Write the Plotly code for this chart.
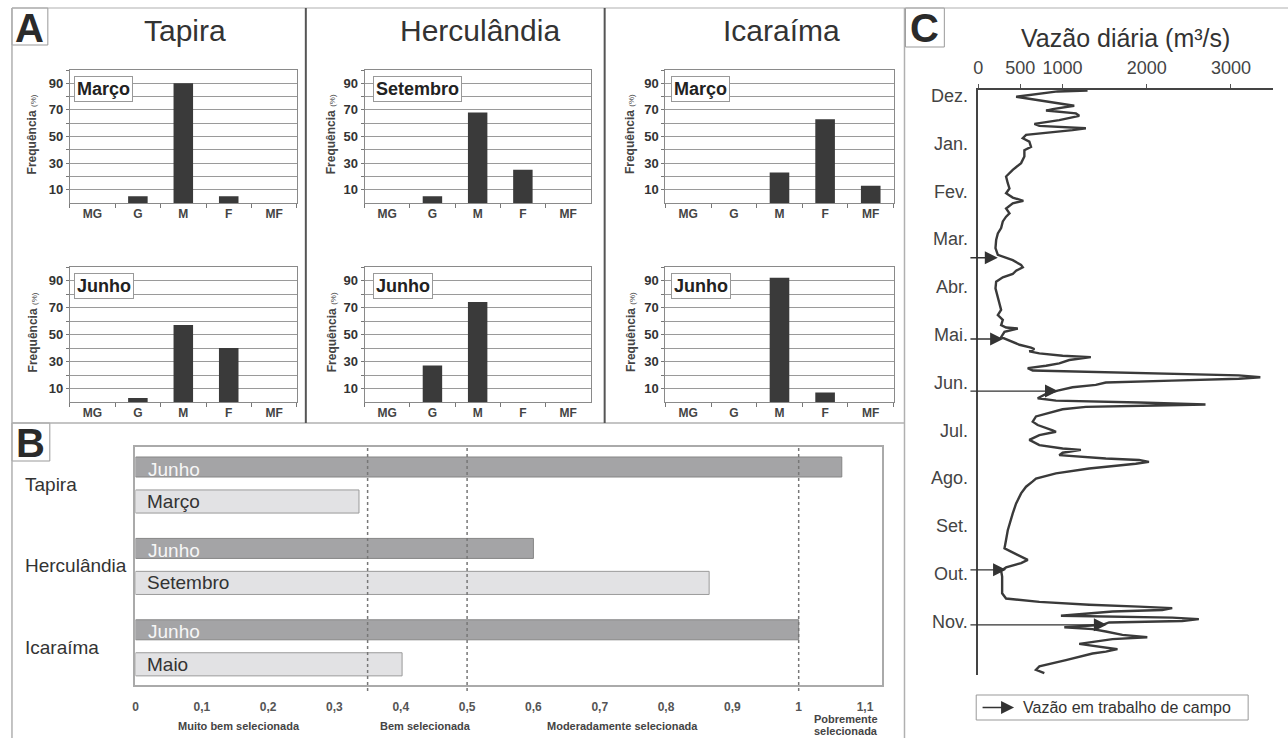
import plotly.graph_objects as go

W, H = 1288, 738
FONT = "Liberation Sans, Arial, sans-serif"


def px(x):
    return x / W


def py(y):
    return 1 - y / H


# ---------------- Panel A data (frequency %, by grain-size class) ----------------
classes = ["MG", "G", "M", "F", "MF"]
sites_a = ["Tapira", "Herculândia", "Icaraíma"]
top_months = ["Março", "Setembro", "Março"]
bottom_months = ["Junho", "Junho", "Junho"]
tapira_marco = [0, 5, 90, 5, 0]
tapira_junho = [0, 3, 57, 40, 0]
herc_setembro = [0, 5, 68, 25, 0]
herc_junho = [0, 27, 74, 0, 0]
icar_marco = [0, 0, 23, 63, 13]
icar_junho = [0, 0, 92, 7, 0]
freq_ticks = [10, 20, 30, 40, 50, 60, 70, 80, 90, 100]
freq_ticktext = ["10", "", "30", "", "50", "", "70", "", "90", ""]

# ---------------- Panel B data (sorting, desvio padrão) ----------------
sites_b = ["Tapira", "Herculândia", "Icaraíma"]
dark_labels = ["Junho", "Junho", "Junho"]
dark_vals = [1.065, 0.60, 1.0]
light_labels = ["Março", "Setembro", "Maio"]
light_vals = [0.337, 0.865, 0.402]
b_ticks = [0, 0.1, 0.2, 0.3, 0.4, 0.5, 0.6, 0.7, 0.8, 0.9, 1.0, 1.1]
b_ticktext = ["0", "0,1", "0,2", "0,3", "0,4", "0,5", "0,6", "0,7", "0,8", "0,9", "1", "1,1"]
class_limits = [0.35, 0.5, 1.0]
class_names = ["Muito bem selecionada", "Bem selecionada",
               "Moderadamente selecionada", "Pobremente", "selecionada"]

# ---------------- Panel C data (daily discharge) ----------------
meses = ["Dez.", "Jan.", "Fev.", "Mar.", "Abr.", "Mai.", "Jun.", "Jul.",
         "Ago.", "Set.", "Out.", "Nov."]
# time in months since 1 December
t_mes = [0.01, 0.03, 0.14, 0.21, 0.28, 0.33, 0.40, 0.43, 0.49, 0.54, 0.63, 0.71,
         0.75, 0.77, 0.80, 0.84, 0.89, 0.94, 1.01, 1.08, 1.19, 1.26, 1.39, 1.53,
         1.67, 1.81, 1.95, 2.06, 2.16, 2.25, 2.32, 2.37, 2.48, 2.58, 2.65, 2.75,
         2.89, 3.00, 3.14, 3.31, 3.45, 3.49, 3.56, 3.66, 3.71, 3.78, 3.85, 3.92,
         4.01, 4.15, 4.32, 4.46, 4.60, 4.71, 4.81, 4.92, 4.97, 4.99, 5.06, 5.17,
         5.24, 5.33, 5.39, 5.42, 5.47, 5.51, 5.56, 5.59, 5.65, 5.72, 5.77, 5.82,
         5.87, 5.89, 5.93, 5.97, 6.01, 6.04, 6.08, 6.12, 6.17, 6.22, 6.29, 6.36,
         6.45, 6.50, 6.54, 6.58, 6.60, 6.63, 6.68, 6.77, 6.83, 6.94, 7.01, 7.12,
         7.15, 7.22, 7.32, 7.43, 7.50, 7.53, 7.59, 7.64, 7.71, 7.74, 7.78, 7.82,
         7.92, 8.02, 8.13, 8.19, 8.30, 8.44, 8.65, 8.86, 9.07, 9.21, 9.41, 9.59,
         9.66, 9.73, 9.83, 9.90, 9.99, 10.06, 10.18, 10.53, 10.64, 10.71, 10.77,
         10.81, 10.84, 10.88, 10.91, 11.00, 11.02, 11.04, 11.07, 11.11, 11.14,
         11.19, 11.24, 11.28, 11.33, 11.40, 11.45, 11.49, 11.59, 11.65, 11.70,
         11.75, 11.79, 11.93, 12.06, 12.13, 12.20]
vazao = [1298, 943, 450, 726, 1002, 1140, 884, 805, 1160, 1199, 962, 667,
         726, 1002, 1278, 1120, 844, 568, 529, 607, 627, 548, 548, 509,
         410, 331, 351, 371, 331, 410, 536, 410, 331, 371, 331, 292,
         272, 233, 213, 205, 233, 292, 410, 509, 529, 450, 410, 292,
         213, 205, 233, 252, 272, 233, 292, 272, 331, 470, 312, 272,
         371, 489, 627, 667, 607, 726, 1002, 1337, 1081, 962, 805, 588,
         647, 1120, 2303, 3092, 3349, 3092, 2300, 1515, 1396, 1120, 943, 805,
         706, 923, 1909, 2698, 2106, 1278, 1002, 805, 686, 647, 706, 884,
         923, 726, 607, 726, 1002, 1219, 1002, 962, 1515, 1909, 2027, 1870,
         1317, 923, 686, 647, 568, 509, 450, 410, 371, 351, 331, 312,
         390, 470, 588, 509, 331, 272, 284, 284, 331, 726, 1317,
         1909, 2303, 2185, 1594, 982, 1515, 2303, 2619, 2422, 1554,
         1475, 1022, 1357, 1515, 1712, 2007, 1594, 1199, 1436, 1653,
         1515, 1357, 1041, 726, 686, 785]
campo_t = [3.51, 5.21, 6.30, 10.04, 11.19]
campo_q = [233, 296, 947, 331, 1527]
c_ticks = [0, 500, 1000, 2000, 3000]

# ---------------- layout geometry (pixels) ----------------
col_x = [(65, 293), (361, 588), (663, 892)]
row_y = [(70, 203), (267, 402)]
col_off = [0, 300, 600]

fig = go.Figure()
layout = dict(
    width=W, height=H, margin=dict(l=0, r=0, t=0, b=0),
    paper_bgcolor="white", plot_bgcolor="white",
    font=dict(family=FONT, color="#333"), showlegend=False,
)
annotations = []
shapes = []

panel_a_data = [[tapira_marco, herc_setembro, icar_marco],
                [tapira_junho, herc_junho, icar_junho]]
month_names = [top_months, bottom_months]

k = 0
for r in range(2):
    for c in range(3):
        k += 1
        xa = "x" if k == 1 else f"x{k}"
        ya = "y" if k == 1 else f"y{k}"
        xl, xr = col_x[c]
        yt, yb = row_y[r]
        layout["xaxis" if k == 1 else f"xaxis{k}"] = dict(
            domain=[px(xl), px(xr)], anchor=ya, type="category",
            categoryorder="array", categoryarray=classes, range=[-0.5, 4.5],
            showline=True, linecolor="#8a8a8a", linewidth=1, mirror=True,
            ticks="outside", tickson="boundaries", ticklen=4, tickcolor="#777",
            tickfont=dict(family=FONT, size=12, color="#444", weight="bold"),
            showgrid=False, zeroline=False, fixedrange=True)
        layout["yaxis" if k == 1 else f"yaxis{k}"] = dict(
            domain=[py(yb), py(yt)], anchor=xa, range=[0, 100],
            tickvals=freq_ticks, ticktext=freq_ticktext,
            showgrid=True, gridcolor="#9a9a9a", gridwidth=1,
            showline=True, linecolor="#8a8a8a", linewidth=1, mirror=True,
            ticks="outside", ticklen=3, tickcolor="#777",
            tickfont=dict(family=FONT, size=13, color="#333", weight="bold"),
            zeroline=False, fixedrange=True)
        fig.add_trace(go.Bar(x=classes, y=panel_a_data[r][c], xaxis=xa, yaxis=ya,
                             width=0.43, marker=dict(color="#3a3a3a", line=dict(width=0)),
                             hoverinfo="skip"))
        # month box
        annotations.append(dict(
            x=px(col_off[c] + 69), y=py(yt + 6), xref="paper", yref="paper",
            xanchor="left", yanchor="top", showarrow=False,
            text=f"<b>{month_names[r][c]}</b>",
            font=dict(family=FONT, size=18, color="#222"),
            bgcolor="white", bordercolor="#999", borderwidth=1, borderpad=2))
        # y title
        annotations.append(dict(
            x=px(col_off[c] + 28), y=py((yt + yb) / 2 - 2), xref="paper", yref="paper",
            xanchor="center", yanchor="middle", showarrow=False, textangle=-90,
            text="<b>Frequência</b> <span style='font-size:8px'>(%)</span>",
            font=dict(family=FONT, size=12, color="#444")))

for c in range(3):
    annotations.append(dict(
        x=px((col_x[c][0] + col_x[c][1]) / 2 + 2), y=py(31), xref="paper", yref="paper",
        xanchor="center", yanchor="middle", showarrow=False, text=sites_a[c],
        font=dict(family=FONT, size=30, color="#333")))

# ---------------- Panel B ----------------
group_step = 2.36
pos_dark = [g * group_step for g in range(len(sites_b))]
pos_light = [g * group_step + 1 for g in range(len(sites_b))]
layout["xaxis7"] = dict(
    domain=[px(131), px(880)], anchor="y7", range=[0, 1.125],
    tickvals=b_ticks, ticktext=b_ticktext, ticks="", ticklabelstandoff=10,
    tickfont=dict(family=FONT, size=12, color="#555", weight="bold"),
    showline=True, linecolor="#aaa", linewidth=1.5, mirror=True,
    showgrid=False, zeroline=False, fixedrange=True)
layout["yaxis7"] = dict(
    domain=[py(685), py(447)], anchor="x7", range=[6.32, -0.58],
    showticklabels=False, ticks="", showline=True, linecolor="#aaa",
    linewidth=1.5, mirror=True, showgrid=False, zeroline=False, fixedrange=True)
fig.add_trace(go.Bar(x=dark_vals, y=pos_dark, orientation="h", width=0.58,
                     xaxis="x7", yaxis="y7", hoverinfo="skip",
                     marker=dict(color="#a4a4a6", line=dict(color="#858585", width=1))))
fig.add_trace(go.Bar(x=light_vals, y=pos_light, orientation="h", width=0.67,
                     xaxis="x7", yaxis="y7", hoverinfo="skip",
                     marker=dict(color="#e2e2e4", line=dict(color="#9a9a9a", width=1))))
for g in range(len(sites_b)):
    annotations.append(dict(x=0, y=pos_dark[g], xref="x7", yref="y7", xshift=11, yshift=-2,
                            xanchor="left", yanchor="middle", showarrow=False,
                            text=dark_labels[g], font=dict(family=FONT, size=19, color="#f6f6f6")))
    annotations.append(dict(x=0, y=pos_light[g], xref="x7", yref="y7", xshift=10,
                            xanchor="left", yanchor="middle", showarrow=False,
                            text=light_labels[g], font=dict(family=FONT, size=19, color="#333")))
    annotations.append(dict(x=px(18), y=pos_dark[g] + 0.5, xref="paper", yref="y7",
                            xanchor="left", yanchor="middle", showarrow=False,
                            text=sites_b[g], font=dict(family=FONT, size=19, color="#333")))
for lim in class_limits:
    shapes.append(dict(type="line", xref="x7", yref="paper", x0=lim, x1=lim,
                       y0=py(691), y1=py(447), line=dict(color="#777", width=1.5, dash="dot")))
class_label_x = [0.156, 0.438, 0.735, 1.071, 1.071]
class_label_y = [726, 726, 726, 719, 731]
for name, xl, yc in zip(class_names, class_label_x, class_label_y):
    annotations.append(dict(x=xl, y=py(yc), xref="x7", yref="paper",
                            xanchor="center", yanchor="middle", showarrow=False,
                            text=f"<b>{name}</b>", borderpad=0,
                            font=dict(family=FONT, size=11, color="#444")))

# ---------------- Panel C ----------------
layout["xaxis8"] = dict(
    domain=[px(977), px(1273)], anchor="y8", side="top", range=[0, 3500],
    tickvals=c_ticks, ticks="outside", ticklen=4, tickcolor="#555",
    tickfont=dict(family=FONT, size=18, color="#444"), ticklabelstandoff=3,
    showline=True, linecolor="#444", linewidth=1.5,
    showgrid=False, zeroline=False, fixedrange=True)
layout["yaxis8"] = dict(
    domain=[py(675), py(90)], anchor="x8", range=[12.24, 0],
    tickvals=list(range(len(meses))), ticks="", showticklabels=False,
    showline=True, linecolor="#444", linewidth=1.5,
    showgrid=False, zeroline=False, fixedrange=True)
for i, mname in enumerate(meses):
    annotations.append(dict(x=px(969), y=i, xref="paper", yref="y8", yshift=-6,
                            xanchor="right", yanchor="middle", showarrow=False,
                            text=mname, font=dict(family=FONT, size=18, color="#444")))
fig.add_trace(go.Scatter(x=vazao, y=t_mes, mode="lines", xaxis="x8", yaxis="y8",
                         line=dict(color="#3a3a3a", width=2.4), hoverinfo="skip",
                         cliponaxis=False))
for tq, qq in zip(campo_t, campo_q):
    annotations.append(dict(x=qq, y=tq, xref="x8", yref="y8", ax=-110, ay=tq,
                            axref="x8", ayref="y8", text="", showarrow=True,
                            arrowhead=2, arrowsize=2, arrowwidth=1.3,
                            arrowcolor="#333", standoff=0))
annotations.append(dict(x=px(1125), y=py(38), xref="paper", yref="paper",
                        xanchor="center", yanchor="middle", showarrow=False,
                        text="Vazão diária (m³/s)", font=dict(family=FONT, size=25, color="#333")))
# legend box
shapes.append(dict(type="rect", xref="paper", yref="paper", x0=px(975), x1=px(1248),
                   y0=py(720), y1=py(695), line=dict(color="#999", width=1)))
annotations.append(dict(x=px(1013), y=py(707.5), xref="paper", yref="paper", ax=-33, ay=0,
                        text="", showarrow=True, arrowhead=2, arrowsize=2,
                        arrowwidth=1.3, arrowcolor="#333", standoff=0))
annotations.append(dict(x=px(1020), y=py(707.5), xref="paper", yref="paper",
                        xanchor="left", yanchor="middle", showarrow=False,
                        text="Vazão em trabalho de campo",
                        font=dict(family=FONT, size=16, color="#333")))

# ---------------- frames and panel letters ----------------
frame = "#b0b0b0"
shapes += [
    dict(type="line", xref="paper", yref="paper", x0=px(7), x1=1, y0=py(8), y1=py(8),
         line=dict(color=frame, width=1.2)),
    dict(type="line", xref="paper", yref="paper", x0=px(7), x1=px(7), y0=py(8), y1=0,
         line=dict(color=frame, width=1.5)),
    dict(type="line", xref="paper", yref="paper", x0=px(7), x1=px(903), y0=py(423), y1=py(423),
         line=dict(color=frame, width=1.5)),
    dict(type="line", xref="paper", yref="paper", x0=px(903), x1=px(903), y0=py(8), y1=0,
         line=dict(color=frame, width=1.5)),
    dict(type="line", xref="paper", yref="paper", x0=px(302), x1=px(302), y0=py(8), y1=py(423),
         line=dict(color="#555", width=2)),
    dict(type="line", xref="paper", yref="paper", x0=px(602), x1=px(602), y0=py(8), y1=py(423),
         line=dict(color="#555", width=2)),
]
for letter, (x0, y0, x1, y1) in zip(["A", "B", "C"],
                                     [(7, 8, 43, 45), (7, 423, 45, 461), (904, 8, 943, 47)]):
    shapes.append(dict(type="rect", xref="paper", yref="paper", x0=px(x0), x1=px(x1),
                       y0=py(y1), y1=py(y0), line=dict(color="#999", width=1),
                       fillcolor="white", layer="below"))
    annotations.append(dict(x=px((x0 + x1) / 2), y=py((y0 + y1) / 2 + 1), xref="paper", yref="paper",
                            xanchor="center", yanchor="middle", showarrow=False,
                            text=f"<b>{letter}</b>", font=dict(family=FONT, size=40, color="#2a2a2a")))

layout["annotations"] = annotations
layout["shapes"] = shapes
fig.update_layout(**layout)
fig.write_html("out.html", config={"displayModeBar": False},
               post_script="document.body.style.margin='0';document.body.style.overflow='hidden';")
